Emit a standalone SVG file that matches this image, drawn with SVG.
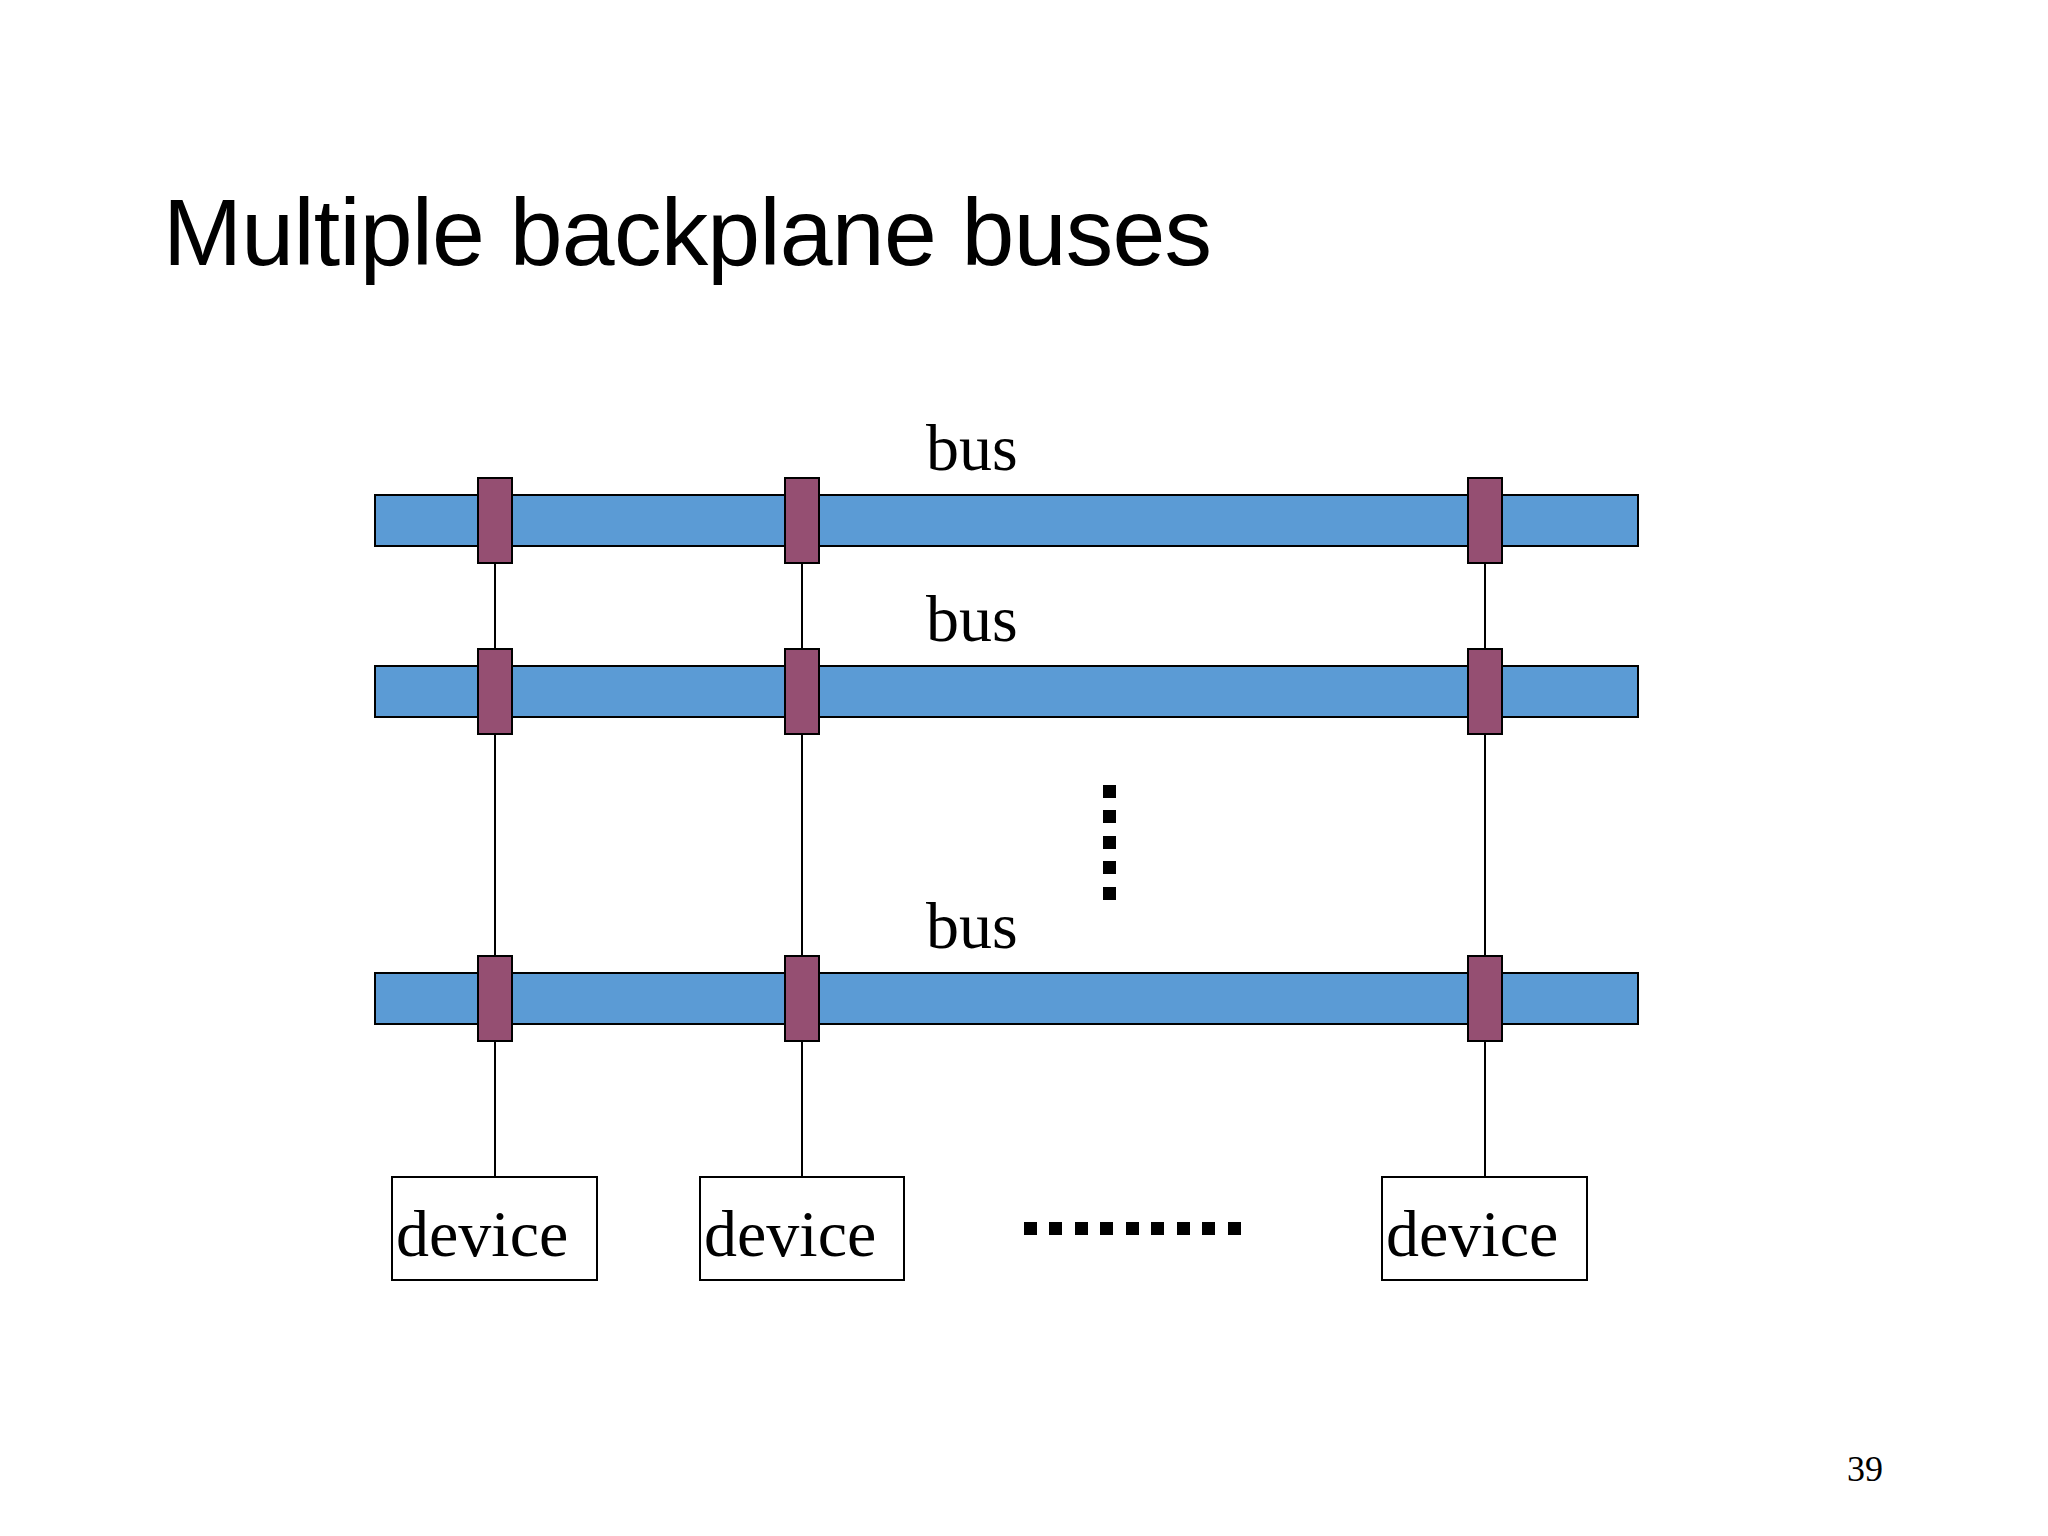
<svg xmlns="http://www.w3.org/2000/svg" width="2048" height="1536" viewBox="0 0 2048 1536">
<style>
.bus{fill:#5b9bd5;stroke:#000;stroke-width:2}
.slot{fill:#954f72;stroke:#000;stroke-width:2}
.dev{fill:#fff;stroke:#000;stroke-width:2}
.ln{stroke:#000;stroke-width:2}
.t{font-family:"Liberation Serif",serif;font-size:66px;fill:#000}
.dot{fill:#000}
</style>
<rect width="2048" height="1536" fill="#fff"/>
<text x="163" y="265" font-family="Liberation Sans,sans-serif" font-size="95" textLength="1049">Multiple backplane buses</text>
<g id="connectors">
<line class="ln" x1="495" y1="563" x2="495" y2="1177"/>
<line class="ln" x1="802" y1="563" x2="802" y2="1177"/>
<line class="ln" x1="1485" y1="563" x2="1485" y2="1177"/>
</g>
<g id="bus1"><rect class="bus" x="375" y="495" width="1263" height="51"/><text class="t" x="926" y="470">bus</text></g>
<g id="bus2"><rect class="bus" x="375" y="666" width="1263" height="51"/><text class="t" x="926" y="641">bus</text></g>
<g id="bus3"><rect class="bus" x="375" y="973" width="1263" height="51"/><text class="t" x="926" y="948">bus</text></g>
<g id="slots">
<rect class="slot" x="478" y="478" width="34" height="85"/><rect class="slot" x="785" y="478" width="34" height="85"/><rect class="slot" x="1468" y="478" width="34" height="85"/>
<rect class="slot" x="478" y="649" width="34" height="85"/><rect class="slot" x="785" y="649" width="34" height="85"/><rect class="slot" x="1468" y="649" width="34" height="85"/>
<rect class="slot" x="478" y="956" width="34" height="85"/><rect class="slot" x="785" y="956" width="34" height="85"/><rect class="slot" x="1468" y="956" width="34" height="85"/>
</g>
<g id="device1"><rect class="dev" x="392" y="1177" width="205" height="103"/><text class="t" x="396" y="1256">device</text></g>
<g id="device2"><rect class="dev" x="700" y="1177" width="204" height="103"/><text class="t" x="704" y="1256">device</text></g>
<g id="device3"><rect class="dev" x="1382" y="1177" width="205" height="103"/><text class="t" x="1386" y="1256">device</text></g>
<g id="vdots">
<rect class="dot" x="1103" y="785" width="13" height="13"/><rect class="dot" x="1103" y="810" width="13" height="13"/><rect class="dot" x="1103" y="836" width="13" height="13"/><rect class="dot" x="1103" y="861" width="13" height="13"/><rect class="dot" x="1103" y="887" width="13" height="13"/>
</g>
<g id="hdots">
<rect class="dot" x="1024" y="1222" width="13" height="13"/><rect class="dot" x="1049" y="1222" width="13" height="13"/><rect class="dot" x="1075" y="1222" width="13" height="13"/><rect class="dot" x="1100" y="1222" width="13" height="13"/><rect class="dot" x="1126" y="1222" width="13" height="13"/><rect class="dot" x="1151" y="1222" width="13" height="13"/><rect class="dot" x="1177" y="1222" width="13" height="13"/><rect class="dot" x="1202" y="1222" width="13" height="13"/><rect class="dot" x="1228" y="1222" width="13" height="13"/>
</g>
<text x="1847" y="1481" font-family="Liberation Serif,serif" font-size="36">39</text>
</svg>
